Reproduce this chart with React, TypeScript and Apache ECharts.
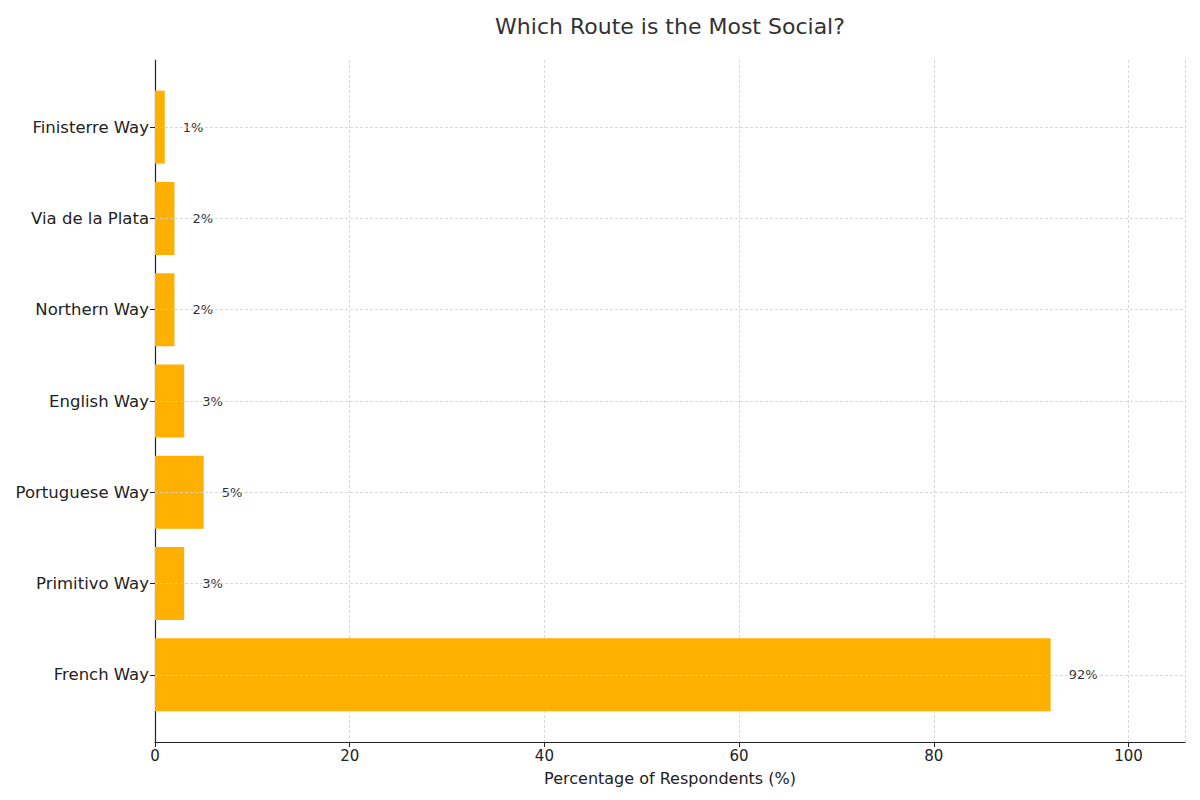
import * as echarts from "echarts";
import { useEffect, useRef } from "react";

const routes = [
  "French Way",
  "Primitivo Way",
  "Portuguese Way",
  "English Way",
  "Northern Way",
  "Via de la Plata",
  "Finisterre Way",
];
const shares = [92, 3, 5, 3, 2, 2, 1];
const xTicks = { min: 0, max: 105.8, interval: 20 };

const FONT = "DejaVu Sans, sans-serif";

export default function App() {
  const ref = useRef<HTMLDivElement | null>(null);

  useEffect(() => {
    if (!ref.current) return;
    const chart = echarts.init(ref.current, undefined, { renderer: "svg" });
    const gridDash = { color: "#cfcfcf", width: 0.8, type: [3, 2] as number[] };
    chart.setOption({
      animation: false,
      backgroundColor: "#ffffff",
      textStyle: { fontFamily: FONT },
      title: {
        text: "Which Route is the Most Social?",
        left: 665,
        top: 10,
        textAlign: "center",
        textStyle: { fontFamily: FONT, fontSize: 22, fontWeight: "normal", color: "#333333" },
      },
      grid: [
        { left: 155, right: 15, top: 60, bottom: 58 },
        { left: 155, right: 15, top: 81.5, height: 639 },
      ],
      xAxis: [
        {
          type: "value",
          gridIndex: 0,
          ...xTicks,
          name: "Percentage of Respondents (%)",
          nameLocation: "middle",
          nameGap: 28,
          nameTextStyle: { fontFamily: FONT, fontSize: 16, color: "#222222" },
          axisLine: { show: true, lineStyle: { color: "#222222", width: 1.2 } },
          axisTick: { show: true, length: 5, lineStyle: { color: "#222222" } },
          axisLabel: {
            fontFamily: FONT,
            fontSize: 15,
            color: "#222222",
            margin: 6,
            showMaxLabel: false,
            formatter: (v: number) => (v % 20 === 0 ? String(v) : ""),
          },
          splitLine: { show: true, lineStyle: gridDash },
        },
        {
          type: "value",
          gridIndex: 1,
          ...xTicks,
          show: false,
          splitLine: { show: false },
        },
      ],
      yAxis: [
        {
          type: "value",
          gridIndex: 0,
          min: 0,
          max: 1,
          axisLine: { show: true, lineStyle: { color: "#222222", width: 1.2 } },
          axisTick: { show: false },
          axisLabel: { show: false },
          splitLine: { show: false },
        },
        {
          type: "category",
          gridIndex: 1,
          data: routes,
          axisLine: { show: false },
          axisTick: { show: true, alignWithLabel: true, length: 5, lineStyle: { color: "#222222" } },
          axisLabel: { fontFamily: FONT, fontSize: 16.5, color: "#222222", margin: 6 },
          splitLine: { show: false },
        },
      ],
      series: [
        {
          type: "line",
          xAxisIndex: 1,
          yAxisIndex: 1,
          data: [],
          z: 1,
          markLine: {
            silent: true,
            symbol: ["none", "none"],
            label: { show: false },
            lineStyle: gridDash,
            data: routes.map((r) => ({ yAxis: r })),
          },
        },
        {
          type: "bar",
          xAxisIndex: 1,
          yAxisIndex: 1,
          z: 3,
          data: shares,
          barCategoryGap: "20%",
          itemStyle: { color: "#FFB000" },
          label: {
            show: true,
            position: "right",
            distance: 18,
            fontFamily: FONT,
            fontSize: 13,
            color: "#333333",
            formatter: (p: { value: number }) => `${p.value}%`,
          },
        },
      ],
    });
    return () => chart.dispose();
  }, []);

  return <div ref={ref} style={{ position: "fixed", left: 0, top: 0, width: 1200, height: 800 }} />;
}
